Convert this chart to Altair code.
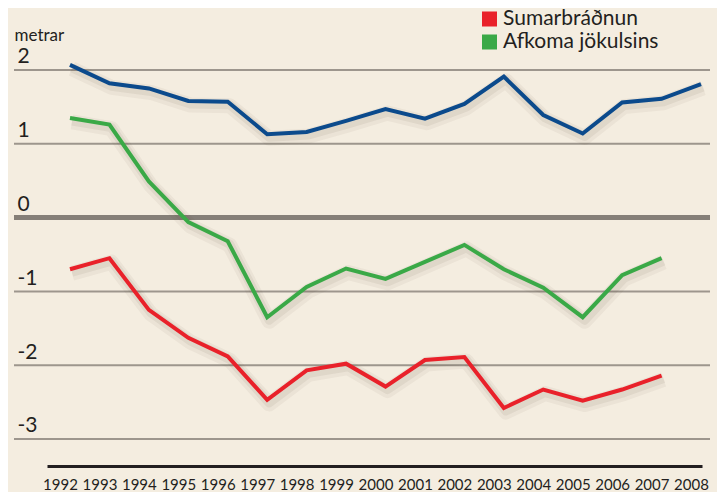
import altair as alt
import pandas as pd

years = list(range(1992, 2009))
vetrarsnjor = [2.07, 1.82, 1.75, 1.58, 1.57, 1.13, 1.16, 1.31, 1.47, 1.34, 1.54, 1.91, 1.39, 1.14, 1.56, 1.61, 1.81]
sumarbradnun = [-0.70, -0.55, -1.25, -1.63, -1.88, -2.47, -2.07, -1.98, -2.29, -1.93, -1.89, -2.58, -2.33, -2.48, -2.33, -2.14, None]
afkoma = [1.35, 1.26, 0.49, -0.06, -0.32, -1.35, -0.94, -0.69, -0.83, -0.60, -0.37, -0.70, -0.95, -1.35, -0.78, -0.55, None]

series_names = ["Vetrarsnjór", "Sumarbráðnun", "Afkoma jökulsins"]
series_colors = ["#0b4a8c", "#e9212a", "#3aa947"]
y_ticks = [2, 1, 0, -1, -2, -3]

rows = []
for name, vals in zip(series_names, [vetrarsnjor, sumarbradnun, afkoma]):
    for yr, v in zip(years, vals):
        if v is not None:
            rows.append({"year": yr, "value": v, "series": name})
df = pd.DataFrame(rows)
grid_df = pd.DataFrame({"value": y_ticks})

FONT = "Lato"
TXT = "#231f20"

# legend swatch: a square filled with closely spaced horizontal strokes
swatch = "".join("M-1,%.3fH1" % (-0.87 + k * 0.1933) for k in range(10))

xscale = alt.Scale(domain=[1991.417, 2008.025], nice=False, zero=False)
yscale = alt.Scale(domain=[-3.366, 2.840], nice=False, zero=False)

yaxis = alt.Axis(
    values=y_ticks, title="metrar", titleAngle=0, titleAlign="left",
    titleBaseline="alphabetic", titleX=-33, titleY=32, titleFont=FONT,
    titleFontSize=17, titleFontWeight="normal", titleColor=TXT,
    labelFont=FONT, labelFontSize=21, labelColor=TXT, labelAlign="left",
    labelBaseline="alphabetic", labelOffset=-7, labelPadding=30,
    labelExpr="'' + datum.value", ticks=False, tickSize=0,
    domain=False, grid=False)

xaxis = alt.Axis(
    values=years, format="d", title=None, labelFont=FONT, labelFontSize=15,
    labelColor=TXT, labelPadding=11, labelOffset=-10, labelOverlap=False,
    labelFlush=False, ticks=False, tickSize=0, grid=False,
    domainColor=TXT, domainWidth=3)

X = alt.X("year:Q", scale=xscale, axis=xaxis)
Y = alt.Y("value:Q", scale=yscale, axis=yaxis)

grid = alt.Chart(grid_df).mark_rule().encode(
    y=Y,
    x=alt.value(-33),
    x2=alt.value(663),
    strokeWidth=alt.condition("datum.value == 0", alt.value(5), alt.value(2)),
    color=alt.condition("datum.value == 0", alt.value("#857f78"), alt.value("#9d968d")),
)

base = alt.Chart(df)

shadow1 = base.mark_line(strokeWidth=15, opacity=0.05, color="#4a3b2a",
                         strokeJoin="round", xOffset=2, yOffset=4).encode(
    x=X, y=Y, detail="series:N", order="year:Q")
shadow2 = base.mark_line(strokeWidth=9, opacity=0.07, color="#4a3b2a",
                         strokeJoin="round", xOffset=2, yOffset=3).encode(
    x=X, y=Y, detail="series:N", order="year:Q")

lines = base.mark_line(strokeWidth=4, strokeJoin="miter").encode(
    x=X, y=Y,
    color=alt.Color("series:N",
                    scale=alt.Scale(domain=series_names, range=series_colors),
                    sort=series_names,
                    legend=alt.Legend(
                        orient="none", legendX=432, legendY=-22.5, title=None,
                        symbolType=swatch, symbolSize=225, symbolStrokeWidth=2,
                        labelFont=FONT, labelFontSize=21, labelColor=TXT,
                        labelOffset=3, rowPadding=0, padding=0)),
    order="year:Q",
)

chart = alt.layer(grid, shadow1, shadow2, lines).properties(
    width=655, height=458,
    autosize=alt.AutoSizeParams(type="none"),
    padding={"left": 39, "right": 15, "top": 0, "bottom": 26},
).configure(background="#f4ede0").configure_view(stroke=None)

chart.save("out.html", embed_options={"renderer": "svg", "actions": False})
